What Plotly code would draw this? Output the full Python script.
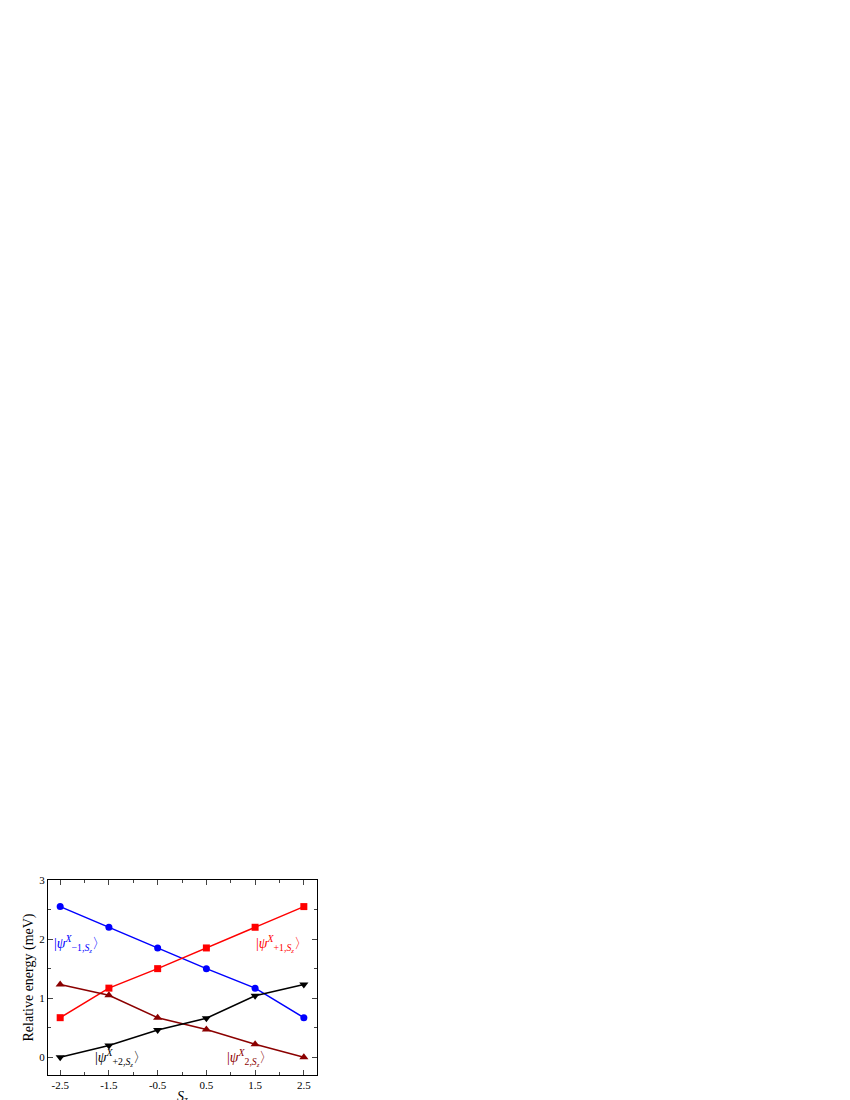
import plotly.graph_objects as go

sz = [-2.5, -1.5, -0.5, 0.5, 1.5, 2.5]
blue = [2.55, 2.20, 1.85, 1.50, 1.17, 0.67]
red = [0.67, 1.17, 1.50, 1.85, 2.20, 2.55]
darkred = [1.23, 1.05, 0.67, 0.47, 0.22, 0.00]
black = [0.00, 0.20, 0.46, 0.66, 1.04, 1.23]

fig = go.Figure()
series = [(blue, "blue", "circle", 7), (red, "red", "square", 7),
          (darkred, "#8b0000", "triangle-up", 8), (black, "black", "triangle-down", 8)]
for ys, c, sym, s in series:
    fig.add_trace(go.Scatter(x=sz, y=ys, mode="lines+markers",
                             line=dict(color=c, width=1.5),
                             marker=dict(symbol=sym, size=s, color=c)))

labels = [(-2.1, 1.92, "|<i>ψ</i><sup><i>X</i></sup><sub>−1,<i>S<sub>z</sub></i></sub>〉", "blue"),
          (2.05, 1.92, "|<i>ψ</i><sup><i>X</i></sup><sub>+1,<i>S<sub>z</sub></i></sub>〉", "red"),
          (-1.25, 0.0, "|<i>ψ</i><sup><i>X</i></sup><sub>+2,<i>S<sub>z</sub></i></sub>〉", "black"),
          (1.4, 0.0, "|<i>ψ</i><sup><i>X</i></sup><sub>2,<i>S<sub>z</sub></i></sub>〉", "#8b0000")]
for x, y, t, c in labels:
    fig.add_annotation(x=x, y=y, text=t, showarrow=False,
                       font=dict(color=c, size=14, family="Liberation Serif"))

ax = dict(showline=True, linecolor="black", linewidth=1, mirror="ticks",
          ticks="inside", ticklen=5, showgrid=False, zeroline=False,
          automargin=False, tickfont=dict(size=11))
fig.update_xaxes(range=[-2.75, 2.77], tickvals=sz, ticktext=["-2.5", "-1.5", "-0.5", "0.5", "1.5", "2.5"],
                 minor=dict(tickvals=[-2, -1, 0, 1, 2], ticks="inside", ticklen=3),
                 title=dict(text="<i>S<sub>z</sub></i>", standoff=0), **ax)
fig.update_yaxes(range=[-0.3, 3], tickvals=[0, 1, 2, 3],
                 minor=dict(tickvals=[0.5, 1.5, 2.5], ticks="inside", ticklen=3),
                 title=dict(text="Relative energy (meV)", standoff=2), **ax)
fig.update_layout(width=850, height=1100, showlegend=False,
                  plot_bgcolor="white", paper_bgcolor="white",
                  font=dict(family="Liberation Serif", size=12, color="black"),
                  margin=dict(l=40, r=541, t=872, b=33))
fig.write_html("out.html")
